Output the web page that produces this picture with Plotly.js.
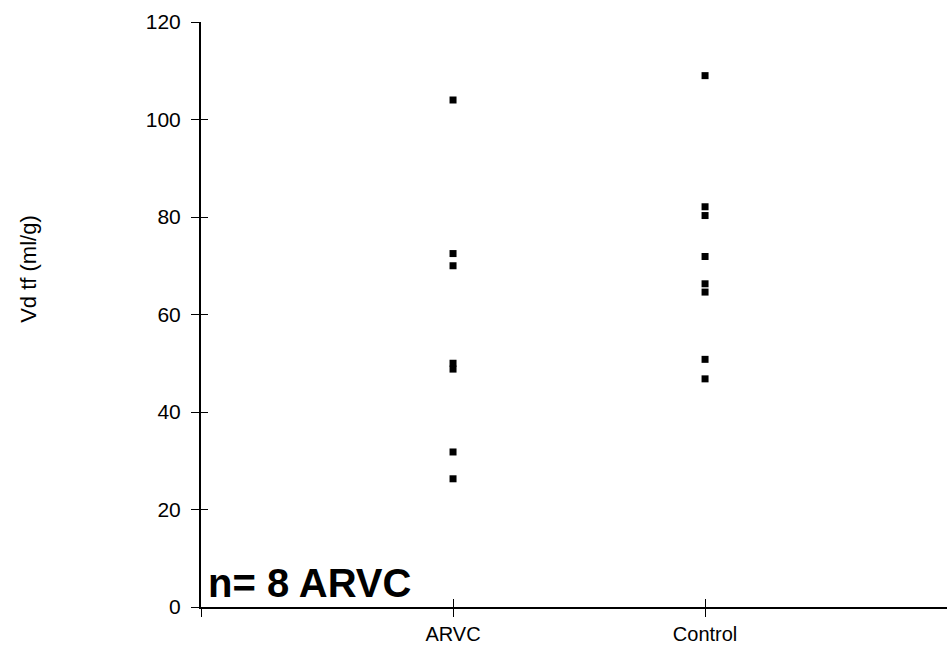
<!DOCTYPE html>
<html>
<head>
<meta charset="utf-8">
<script src="https://cdn.plot.ly/plotly-3.0.1.min.js"></script>
<style>html,body{margin:0;padding:0;background:#fff;}#chart{width:947px;height:646px;}</style>
</head>
<body>
<div id="chart"></div>
<script>
const categories = ["ARVC", "Control"];
const categoryPositions = [1, 2];
const arvcValues = [104, 72.5, 70, 50, 48.8, 31.8, 26.3];
const controlValues = [109, 82.1, 80.3, 71.9, 66.3, 64.6, 50.8, 46.8];
const yTickValues = [0, 20, 40, 60, 80, 100, 120];

const traces = [
  {
    type: "scatter", mode: "markers", name: "ARVC",
    x: arvcValues.map(() => categoryPositions[0]), y: arvcValues,
    marker: {symbol: "square", size: 7, color: "#000"}, showlegend: false
  },
  {
    type: "scatter", mode: "markers", name: "Control",
    x: controlValues.map(() => categoryPositions[1]), y: controlValues,
    marker: {symbol: "square", size: 7, color: "#000"}, showlegend: false
  },
  {
    type: "scatter", mode: "markers", x: [categoryPositions[0]], y: [arvcValues[0]],
    xaxis: "x2", yaxis: "y2", showlegend: false, hoverinfo: "skip",
    marker: {size: 1, opacity: 0}
  }
];

const font = {family: "Liberation Sans, Arial, sans-serif", color: "#000"};
const layout = {
  width: 947, height: 646,
  margin: {l: 201, r: 0, t: 22, b: 39, autoexpand: false},
  paper_bgcolor: "#fff", plot_bgcolor: "#fff",
  showlegend: false,
  xaxis: {
    range: [0, 2.96], tickvals: [0].concat(categoryPositions), ticktext: [""].concat(categories),
    showgrid: false, zeroline: false, showline: true, linecolor: "#000", linewidth: 2,
    ticks: "outside", ticklen: 8, tickcolor: "#000", tickwidth: 1,
    tickfont: Object.assign({size: 20}, font), ticklabelstandoff: 0
  },
  xaxis2: {
    overlaying: "x", range: [0, 2.96], tickvals: [0].concat(categoryPositions),
    ticktext: ["", "", ""], showgrid: false, zeroline: false, showline: false,
    ticks: "inside", ticklen: 8, tickcolor: "#000", tickwidth: 1
  },
  yaxis: {
    range: [0, 120], tickvals: yTickValues,
    showgrid: false, zeroline: false, showline: true, linecolor: "#000", linewidth: 2,
    ticks: "outside", ticklen: 8, tickcolor: "#000", tickwidth: 1,
    tickfont: Object.assign({size: 21}, font), ticklabelstandoff: 6
  },
  yaxis2: {
    overlaying: "y", range: [0, 120], tickvals: yTickValues,
    ticktext: yTickValues.map(() => ""), showgrid: false, zeroline: false, showline: false,
    ticks: "inside", ticklen: 7, tickcolor: "#000", tickwidth: 1
  },
  annotations: [
    {
      xref: "paper", yref: "paper", x: 0, y: 0, xanchor: "left", yanchor: "bottom",
      xshift: 5, yshift: 0, showarrow: false,
      text: "<b>n= 8 ARVC</b>", font: Object.assign({size: 40}, font)
    },
    {
      xref: "paper", yref: "paper", x: -0.2306, y: 0.578, xanchor: "center", yanchor: "middle",
      textangle: -90, showarrow: false,
      text: "Vd tf (ml/g)", font: Object.assign({size: 22}, font)
    }
  ]
};

Plotly.newPlot("chart", traces, layout, {displayModeBar: false, staticPlot: true});
</script>
</body>
</html>
